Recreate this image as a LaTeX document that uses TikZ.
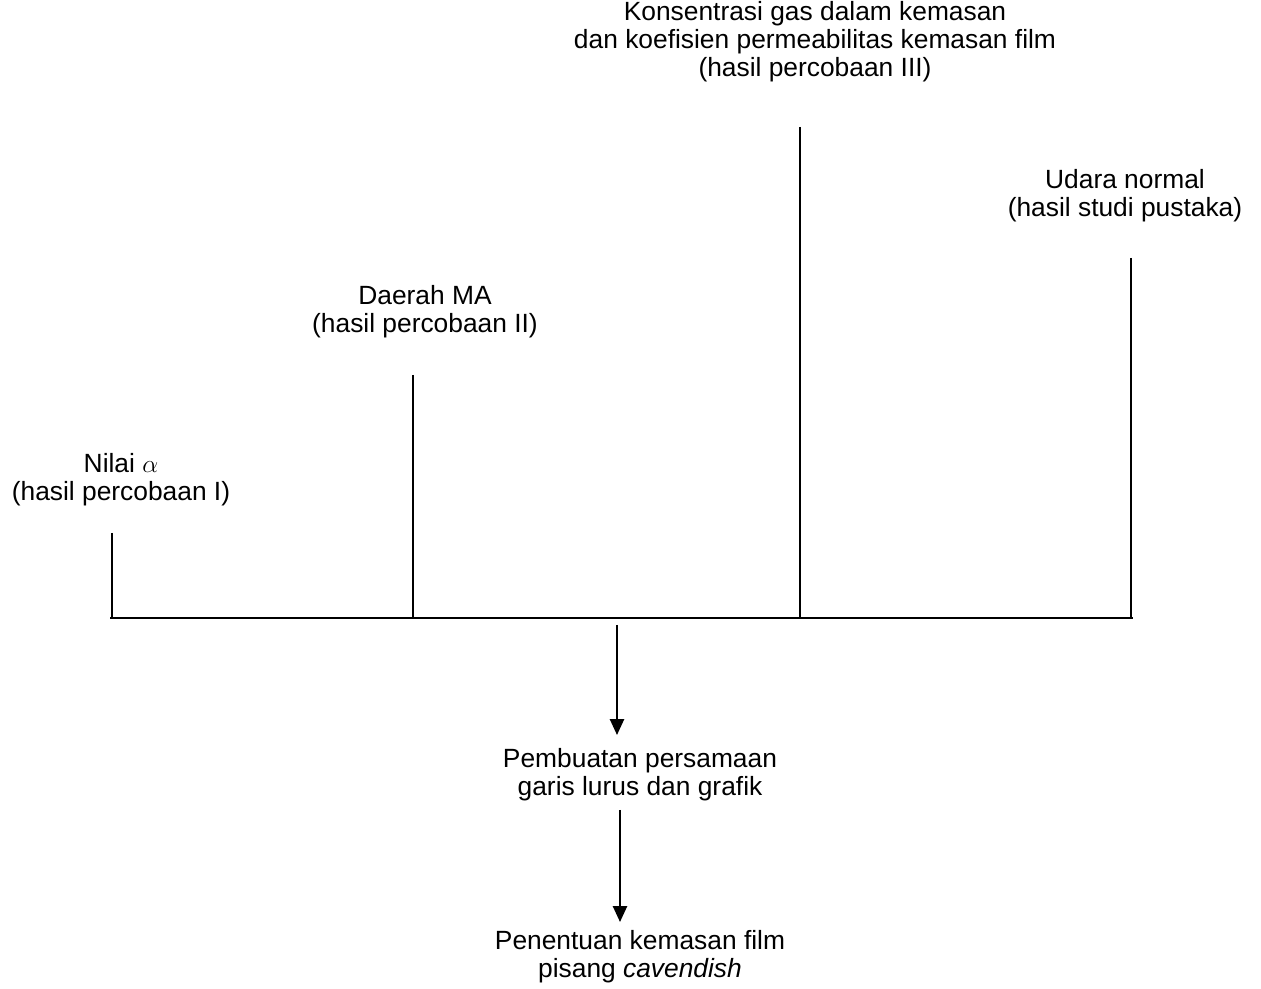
\documentclass[tikz,border=0pt]{standalone}
\usepackage{fontspec}
\setmainfont{Liberation Sans}
\usetikzlibrary{arrows.meta}

\tikzset{
  lbl/.style={align=center, inner sep=1pt, font=\fontsize{15}{16}\selectfont},
  line/.style={line width=1.1pt},
  flow/.style={line width=1.1pt, -{Triangle[width=8pt,length=9pt]}}
}

\begin{document}
\begin{tikzpicture}
\useasboundingbox (0,0) rectangle (25.22,19.78);

% Input labels
\node[lbl] (nilai) at (2.42,10.18) {Nilai $\alpha$\\(hasil percobaan I)};
\node[lbl] (daerah) at (8.5,13.54) {Daerah MA\\(hasil percobaan II)};
\node[lbl] (konsentrasi) at (16.3,18.94) {Konsentrasi gas dalam kemasan\\dan koefisien permeabilitas kemasan film\\(hasil percobaan III)};
\node[lbl] (udara) at (22.5,15.86) {Udara normal\\(hasil studi pustaka)};

% Collecting line
\coordinate (hl-left) at (2.2,7.42);
\coordinate (hl-right) at (22.66,7.42);
\draw[line] (hl-left) -- (hl-right);

% Vertical feeders
\foreach \name/\x/\y in {nilai/2.24/9.12, daerah/8.26/12.28, konsentrasi/16.0/17.24, udara/22.62/14.62}{
  \coordinate (\name-top) at (\x,\y);
  \coordinate (\name-foot) at (\x,7.42);
  \draw[line] (\name-top) -- (\name-foot);
}

% Steps
\node[lbl] (pembuatan) at (12.8,4.28) {Pembuatan persamaan\\garis lurus dan grafik};
\node[lbl] (penentuan) at (12.8,0.64) {Penentuan kemasan film\\pisang \textit{cavendish}};

% Arrows
\coordinate (split) at (12.34,7.28);
\draw[flow] (split) -- (split |- 0,5.08);
\coordinate (step-a) at (12.4,3.58);
\draw[flow] (step-a) -- (step-a |- 0,1.34);
\end{tikzpicture}
\end{document}
